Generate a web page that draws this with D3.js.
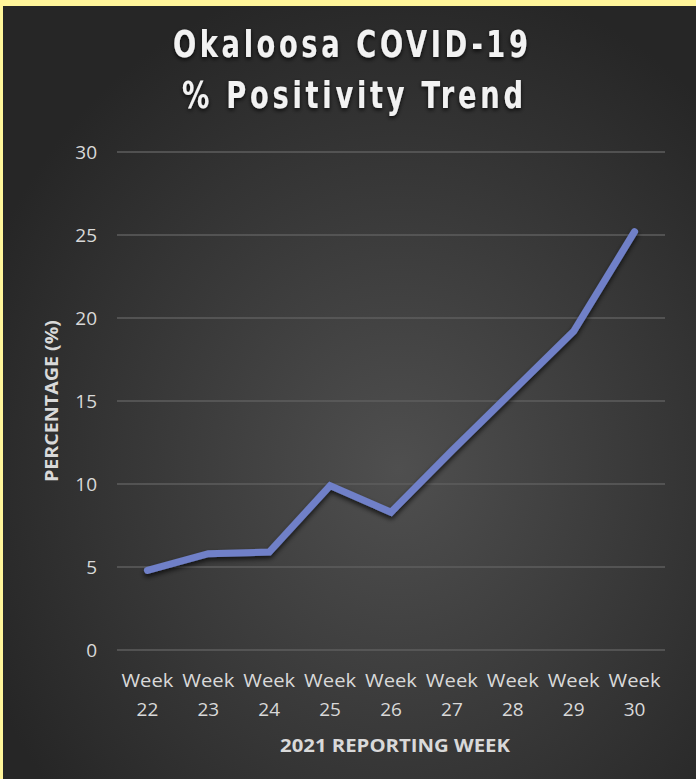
<!DOCTYPE html>
<html>
<head>
<meta charset="utf-8">
<script src="https://cdn.jsdelivr.net/npm/d3@7"></script>
<style>
  body { margin: 0; background: #fff59a; }
  svg { display: block; }
</style>
</head>
<body>
<div id="chart"></div>
<script>
var weeks = ["22", "23", "24", "25", "26", "27", "28", "29", "30"];
var positivity = [4.8, 5.8, 5.9, 9.9, 8.3, 12.0, 15.6, 19.2, 25.2];
var yTicks = [0, 5, 10, 15, 20, 25, 30];
var titleLines = ["Okaloosa COVID-19", "% Positivity Trend"];

var width = 696, height = 779;
var margin = { top: 152, right: 31, bottom: 129, left: 117 };

var svg = d3.select("#chart")
    .append("svg")
    .attr("width", width)
    .attr("height", height);

var defs = svg.append("defs");
var bg = defs.append("radialGradient")
    .attr("id", "bg")
    .attr("cx", "57%").attr("cy", "60%").attr("r", "65%");
bg.append("stop").attr("offset", "0%").style("stop-color", "#4f4f4f");
bg.append("stop").attr("offset", "100%").style("stop-color", "#262626");

var shadow = defs.append("filter").attr("id", "shadow")
    .attr("x", "-10%").attr("y", "-10%").attr("width", "120%").attr("height", "130%");
shadow.append("feDropShadow")
    .attr("dx", 0).attr("dy", 3).attr("stdDeviation", 2.5)
    .attr("flood-color", "#000").attr("flood-opacity", 0.7);

var tshadow = defs.append("filter").attr("id", "tshadow")
    .attr("x", "-10%").attr("y", "-20%").attr("width", "120%").attr("height", "150%");
tshadow.append("feDropShadow")
    .attr("dx", 0).attr("dy", 2).attr("stdDeviation", 2)
    .attr("flood-color", "#000").attr("flood-opacity", 0.8);

// yellow frame on top/left, dark panel
svg.append("rect").attr("width", width).attr("height", height).attr("fill", "#fff59a");
svg.append("rect")
    .attr("x", 3).attr("y", 6)
    .attr("width", width - 3).attr("height", height - 6)
    .attr("fill", "url(#bg)");

var x = d3.scalePoint()
    .domain(weeks)
    .range([margin.left, width - margin.right])
    .padding(0.5);

var y = d3.scaleLinear()
    .domain([0, 30])
    .range([height - margin.bottom, margin.top]);

// gridlines
svg.append("g")
    .selectAll("line")
    .data(yTicks)
    .join("line")
    .attr("x1", margin.left)
    .attr("x2", width - margin.right)
    .attr("y1", d => y(d))
    .attr("y2", d => y(d))
    .attr("stroke", "#5e5e5e")
    .attr("stroke-width", 1.5);

// y tick labels
svg.append("g")
    .selectAll("text")
    .data(yTicks)
    .join("text")
    .attr("x", 97)
    .attr("y", d => y(d))
    .attr("dy", "0.36em")
    .attr("text-anchor", "end")
    .attr("fill", "#d9d9d9")
    .style("font-family", "'Open Sans', sans-serif")
    .style("font-size", "19px")
    .text(d => d);

// x tick labels, two lines each
var xg = svg.append("g")
    .attr("fill", "#d9d9d9")
    .style("font-family", "'Open Sans', sans-serif")
    .style("font-size", "19px");
xg.selectAll("text.wk")
    .data(weeks)
    .join("text")
    .attr("class", "wk")
    .attr("x", d => x(d) - 26)
    .attr("y", 687)
    .attr("textLength", 52).attr("lengthAdjust", "spacingAndGlyphs")
    .text("Week");
xg.selectAll("text.num")
    .data(weeks)
    .join("text")
    .attr("class", "num")
    .attr("x", d => x(d))
    .attr("y", 716)
    .attr("text-anchor", "middle")
    .text(d => d);

// line
var line = d3.line()
    .x((d, i) => x(weeks[i]))
    .y(d => y(d));

svg.append("path")
    .datum(positivity)
    .attr("d", line)
    .attr("fill", "none")
    .attr("stroke", "#7080c8")
    .attr("stroke-width", 7)
    .attr("stroke-linecap", "round")
    .attr("stroke-linejoin", "miter")
    .attr("filter", "url(#shadow)");

// title: condensed look by squeezing horizontally, wide tracking
var squeeze = 0.74;
var titleSpec = [
    { cx: 350.5, y: 57, w: 355 },
    { cx: 352.5, y: 108, w: 341 }
];
svg.append("g")
    .attr("filter", "url(#tshadow)")
    .selectAll("text")
    .data(titleLines)
    .join("text")
    .attr("transform", (d, i) => "translate(" + titleSpec[i].cx + "," + titleSpec[i].y + ") scale(" + squeeze + ",1)")
    .attr("x", (d, i) => -titleSpec[i].w / squeeze / 2)
    .attr("textLength", (d, i) => titleSpec[i].w / squeeze)
    .attr("lengthAdjust", "spacing")
    .attr("fill", "#f2f2f2")
    .style("font-family", "'DejaVu Sans', sans-serif")
    .style("font-weight", "bold")
    .style("font-size", "37px")
    .text(d => d);

// axis titles
svg.append("text")
    .attr("transform", "translate(58," + y(15) + ") rotate(-90)")
    .attr("text-anchor", "middle")
    .attr("fill", "#d9d9d9")
    .style("font-family", "'Open Sans', sans-serif")
    .style("font-weight", "bold")
    .style("font-size", "17px")
    .attr("textLength", 162).attr("lengthAdjust", "spacingAndGlyphs")
    .text("PERCENTAGE (%)");

svg.append("text")
    .attr("x", 395).attr("y", 752)
    .attr("text-anchor", "middle")
    .attr("fill", "#d9d9d9")
    .style("font-family", "'Open Sans', sans-serif")
    .style("font-weight", "bold")
    .style("font-size", "18px")
    .attr("textLength", 230).attr("lengthAdjust", "spacingAndGlyphs")
    .text("2021 REPORTING WEEK");
</script>
</body>
</html>
